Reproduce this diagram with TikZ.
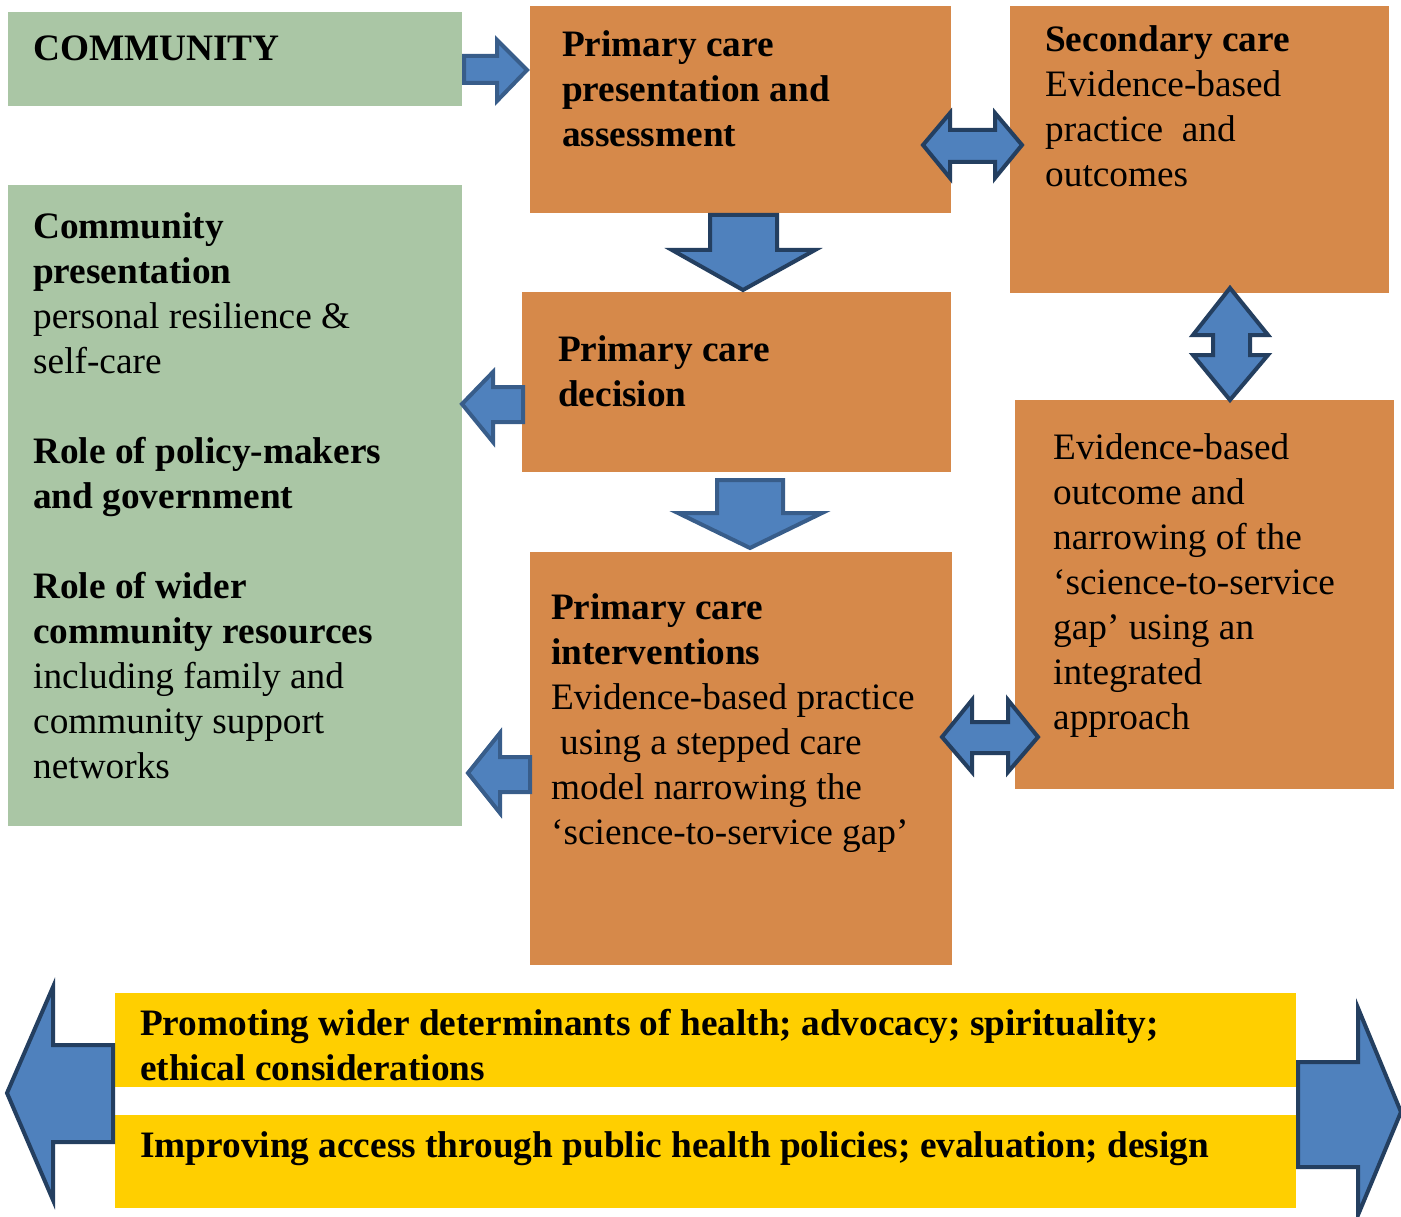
\documentclass[tikz,border=0pt]{standalone}
\usepackage{fontspec}
\setmainfont{Liberation Serif}
\definecolor{sage}{HTML}{AAC6A5}
\definecolor{ochre}{HTML}{D6894A}
\definecolor{gold}{HTML}{FFCF00}
\definecolor{arrowfill}{HTML}{4F81BD}
\definecolor{arrowdark}{HTML}{243F60}
\definecolor{arrowmid}{HTML}{385D8A}
\begin{document}
\begin{tikzpicture}[x=1pt,y=-1pt,
  panel/.style={anchor=north west, inner sep=0, outer sep=0, draw=none},
  txt/.style={font=\fontsize{37.3}{45}\selectfont, align=left, anchor=base west, inner sep=0},
  blockarrow/.style={fill=arrowfill, draw=arrowdark, line width=4pt, line join=miter},
  blockarrowlight/.style={fill=arrowfill, draw=arrowmid, line width=4pt, line join=miter}]
\useasboundingbox (0,0) rectangle (1401,1217);
\fill[white] (0,0) rectangle (1401,1217);
% panels
\node[panel, fill=sage, minimum width=454, minimum height=94] (comm) at (8,12) {};
\node[panel, fill=sage, minimum width=454, minimum height=641] (commpres) at (8,185) {};
\node[panel, fill=ochre, minimum width=421, minimum height=207] (pcpa) at (530,6) {};
\node[panel, fill=ochre, minimum width=379, minimum height=287] (sec) at (1010,6) {};
\node[panel, fill=ochre, minimum width=429, minimum height=180] (pcd) at (522,292) {};
\node[panel, fill=ochre, minimum width=379, minimum height=389] (ebo) at (1015,400) {};
\node[panel, fill=ochre, minimum width=422, minimum height=413] (pci) at (530,552) {};
\node[panel, fill=gold, minimum width=1181, minimum height=94] (prom) at (115,993) {};
\node[panel, fill=gold, minimum width=1181, minimum height=93] (impr) at (115,1115) {};
% texts (anchored at the baseline of the last line)
\node[txt] (tcomm) at (33,61) {\textbf{COMMUNITY}};
\node[txt] (tpcpa) at (562,147) {\textbf{Primary care}\\\textbf{presentation and}\\\textbf{assessment}};
\node[txt] (tsec) at (1045,187) {\textbf{Secondary care}\\Evidence-based\\practice\ \ and\\outcomes};
\node[txt] (tcommpres) at (33,778) {\textbf{Community}\\\textbf{presentation}\\personal resilience \&\\self-care\\[45pt]\textbf{Role of policy-makers}\\\textbf{and government}\\[45pt]\textbf{Role of wider}\\\textbf{community resources}\\including family and\\community support\\networks};
\node[txt] (tpcd) at (558,406) {\textbf{Primary care}\\\textbf{decision}};
\node[txt] (tebo) at (1053,729) {Evidence-based\\outcome and\\narrowing of the\\‘science-to-service\\gap’ using an\\integrated\\approach};
\node[txt] (tpci) at (551,844) {\textbf{Primary care}\\\textbf{interventions}\\Evidence-based practice\\\hspace*{9pt}using a stepped care\\model narrowing the\\‘science-to-service gap’};
\node[txt] (tprom) at (140,1080) {\textbf{Promoting wider determinants of health; advocacy; spirituality;}\\\textbf{ethical considerations}};
\node[txt] (timpr) at (140,1157) {\textbf{Improving access through public health policies; evaluation; design}};
% block arrows
\draw[blockarrowlight] (464,56) -- (497,56) -- (497,40) -- (527,70) -- (497,101) -- (497,83) -- (464,83) -- cycle;
\draw[blockarrow] (923,145) -- (950,113) -- (950,130) -- (995,130) -- (995,113) -- (1022,145) -- (995,178) -- (995,162) -- (950,162) -- (950,178) -- cycle;
\draw[blockarrow] (710,215) -- (777,215) -- (777,250) -- (815,250) -- (743,290) -- (672,250) -- (710,250) -- cycle;
\draw[blockarrow] (1230,288) -- (1268,335) -- (1250,335) -- (1250,355) -- (1268,355) -- (1230,400) -- (1193,355) -- (1213,355) -- (1213,335) -- (1193,335) -- cycle;
\draw[blockarrowlight] (462,404) -- (493,372) -- (493,387) -- (523,387) -- (523,422) -- (493,422) -- (493,442) -- cycle;
\draw[blockarrowlight] (717,480) -- (783,480) -- (783,513) -- (822,513) -- (750,548) -- (678,513) -- (717,513) -- cycle;
\draw[blockarrowlight] (468,773) -- (500,733) -- (500,757) -- (530,757) -- (530,792) -- (500,792) -- (500,813) -- cycle;
\draw[blockarrow] (942,737) -- (972,700) -- (972,722) -- (1008,722) -- (1008,700) -- (1038,737) -- (1008,772) -- (1008,753) -- (972,753) -- (972,772) -- cycle;
\draw[blockarrow] (7,1093) -- (53,987) -- (53,1045) -- (113,1045) -- (113,1142) -- (53,1142) -- (53,1200) -- cycle;
\draw[blockarrow] (1298,1062) -- (1358,1062) -- (1358,1008) -- (1401,1112) -- (1358,1215) -- (1358,1167) -- (1298,1167) -- cycle;
\end{tikzpicture}
\end{document}
